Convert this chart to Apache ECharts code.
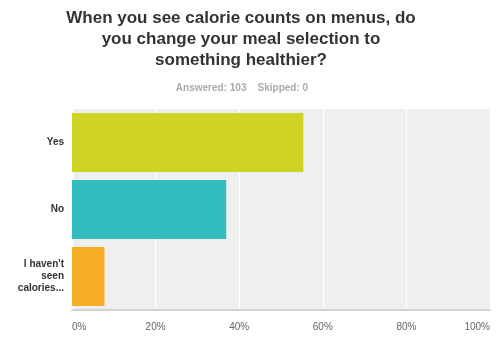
<!DOCTYPE html>
<html><head><meta charset="utf-8">
<script src="https://cdn.jsdelivr.net/npm/echarts@6/dist/echarts.min.js"></script>
<style>html,body{margin:0;padding:0;background:#fff}#c{width:500px;height:343px}</style>
</head><body><div id="c"></div>
<script>
const categories = ["Yes", "No", "I haven't\nseen\ncalories..."];
const values = [55.34, 36.89, 7.77];
const colors = ["#cfd323", "#34bdbe", "#f6ae26"];
const titleText = "When you see calorie counts on menus, do\nyou change your meal selection to\nsomething healthier?";
const subText = "Answered: 103    Skipped: 0";

const chart = echarts.init(document.getElementById('c'));
chart.setOption({
  animation: false,
  title: [{
    text: titleText,
    left: 236, top: 3, textAlign: 'center',
    textStyle: {fontFamily: 'Liberation Sans, Arial', fontWeight: 'bold', fontSize: 17, color: '#333', lineHeight: 21}
  }, {
    text: subText,
    left: 237, top: 78, textAlign: 'center',
    textStyle: {fontFamily: 'Liberation Sans, Arial', fontWeight: 'bold', fontSize: 10, color: '#aaa'}
  }],
  grid: {left: 72, right: 10, top: 109, bottom: 33, show: true, backgroundColor: '#efefef', borderWidth: 0},
  xAxis: {
    type: 'value', min: 0, max: 100, interval: 20,
    axisLine: {show: true, lineStyle: {color: '#d3d3d3', width: 2}},
    axisTick: {show: false},
    splitLine: {show: true, lineStyle: {color: '#ffffff', width: 1}},
    axisLabel: {formatter: '{value}%', color: '#666', fontSize: 10, fontFamily: 'Liberation Sans, Arial', margin: 12, alignMinLabel: 'left', alignMaxLabel: 'right'}
  },
  yAxis: {
    type: 'category', data: categories, inverse: true,
    axisLine: {show: false}, axisTick: {show: false},
    axisLabel: {color: '#333', fontSize: 10, fontWeight: 'bold', fontFamily: 'Liberation Sans, Arial', margin: 8, lineHeight: 12, padding: [4, 0, 0, 0]}
  },
  series: [{
    type: 'bar', barWidth: '88%',
    data: values.map((v, i) => ({value: v, itemStyle: {color: colors[i]}}))
  }]
});
</script></body></html>
